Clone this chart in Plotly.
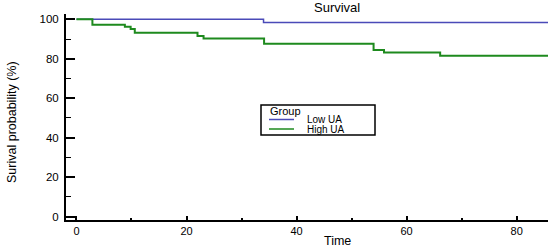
import plotly.graph_objects as go

# ---- data ----
group_names = ["Low UA", "High UA"]
low_time = [0, 34.0, 87]
low_surv = [100, 98.4, 98.4]
high_time = [0, 2.9, 8.8, 9.85, 10.6, 22.0, 23.1, 34.1, 54.0, 55.9, 66.1, 87]
high_surv = [100, 97.3, 96.3, 95.1, 93.2, 91.5, 90.3, 87.6, 84.5, 83.2, 81.5, 81.5]
artifact_time = [-3, 0, 0]
artifact_surv = [0.0, 0.0, -3]
x_ticks = [0, 20, 40, 60, 80]
y_ticks = [0, 20, 40, 60, 80, 100]

colors = ["#4a4ab8", "#1e8a1e"]
W, H = 548, 248
L, R, T, B = 66, 0, 14, 28
pw, ph = W - L - R, H - T - B

fig = go.Figure()
fig.add_trace(go.Scatter(x=low_time, y=low_surv, mode="lines", line_shape="hv",
                         line=dict(color=colors[0], width=1.5), name=group_names[0],
                         showlegend=False, cliponaxis=True))
fig.add_trace(go.Scatter(x=high_time, y=high_surv, mode="lines", line_shape="hv",
                         line=dict(color=colors[1], width=2), name=group_names[1],
                         showlegend=False, cliponaxis=True))
fig.add_trace(go.Scatter(x=artifact_time, y=artifact_surv, mode="lines",
                         line=dict(color="black", width=1), showlegend=False))

def px_x(p):
    return (p - L) / pw

def px_y(p):
    return (H - B - p) / ph

font = "Liberation Sans, Arial, sans-serif"
annotations = [
    dict(text="Survival", x=px_x(337), y=px_y(7), xref="paper", yref="paper",
         showarrow=False, font=dict(size=13, color="black", family=font),
         xanchor="center", yanchor="middle"),
    dict(text="Time", x=px_x(337), y=px_y(241), xref="paper", yref="paper",
         showarrow=False, font=dict(size=12.5, color="black", family=font),
         xanchor="center", yanchor="middle"),
    dict(text="Surival probability (%)", x=px_x(12), y=px_y(122), xref="paper", yref="paper",
         showarrow=False, textangle=-90, font=dict(size=12.5, color="black", family=font),
         xanchor="center", yanchor="middle"),
    dict(text="Group", x=px_x(268), y=px_y(111), xref="paper", yref="paper",
         showarrow=False, font=dict(size=11, color="black", family=font),
         xanchor="left", yanchor="middle"),
]
shapes = [
    dict(type="rect", xref="paper", yref="paper", x0=px_x(261), x1=px_x(375),
         y0=px_y(105), y1=px_y(135), line=dict(color="black", width=1.5),
         fillcolor="white", layer="above"),
]
item_y = [119.5, 129]
for name, col, yy in zip(group_names, colors, item_y):
    shapes.append(dict(type="line", xref="paper", yref="paper", x0=px_x(269), x1=px_x(294),
                       y0=px_y(yy), y1=px_y(yy), line=dict(color=col, width=1.5), layer="above"))
    annotations.append(dict(text=name, x=px_x(305), y=px_y(yy), xref="paper", yref="paper",
                            showarrow=False, font=dict(size=10, color="black", family=font),
                            xanchor="left", yanchor="middle"))

fig.update_layout(
    width=W, height=H,
    margin=dict(l=L, r=R, t=T, b=B, pad=0),
    paper_bgcolor="white", plot_bgcolor="white",
    font=dict(family=font, color="black", size=11),
    showlegend=False,
    annotations=annotations,
    shapes=shapes,
    xaxis=dict(range=[-1.9, 85.7], tickvals=x_ticks, ticks="inside", ticklen=4, tickwidth=2,
               tickcolor="black", showline=True, linecolor="black", linewidth=2,
               showgrid=False, zeroline=False, tickfont=dict(size=11),
               minor=dict(dtick=10, tick0=0, ticks="inside", ticklen=2, tickwidth=1.5,
                          tickcolor="black", showgrid=False)),
    yaxis=dict(range=[-1.7, 102.7], tickvals=y_ticks, ticks="inside", ticklen=9, tickwidth=1.5,
               tickcolor="black", showline=True, linecolor="black", linewidth=2,
               showgrid=False, zeroline=False, tickfont=dict(size=11.5), ticklabelstandoff=3,
               minor=dict(dtick=10, tick0=0, ticks="inside", ticklen=5, tickwidth=1,
                          tickcolor="black", showgrid=False)),
)

fig.write_html("out.html", config={"displayModeBar": False},
               post_script="document.body.style.margin='0';document.body.style.overflow='hidden';")
